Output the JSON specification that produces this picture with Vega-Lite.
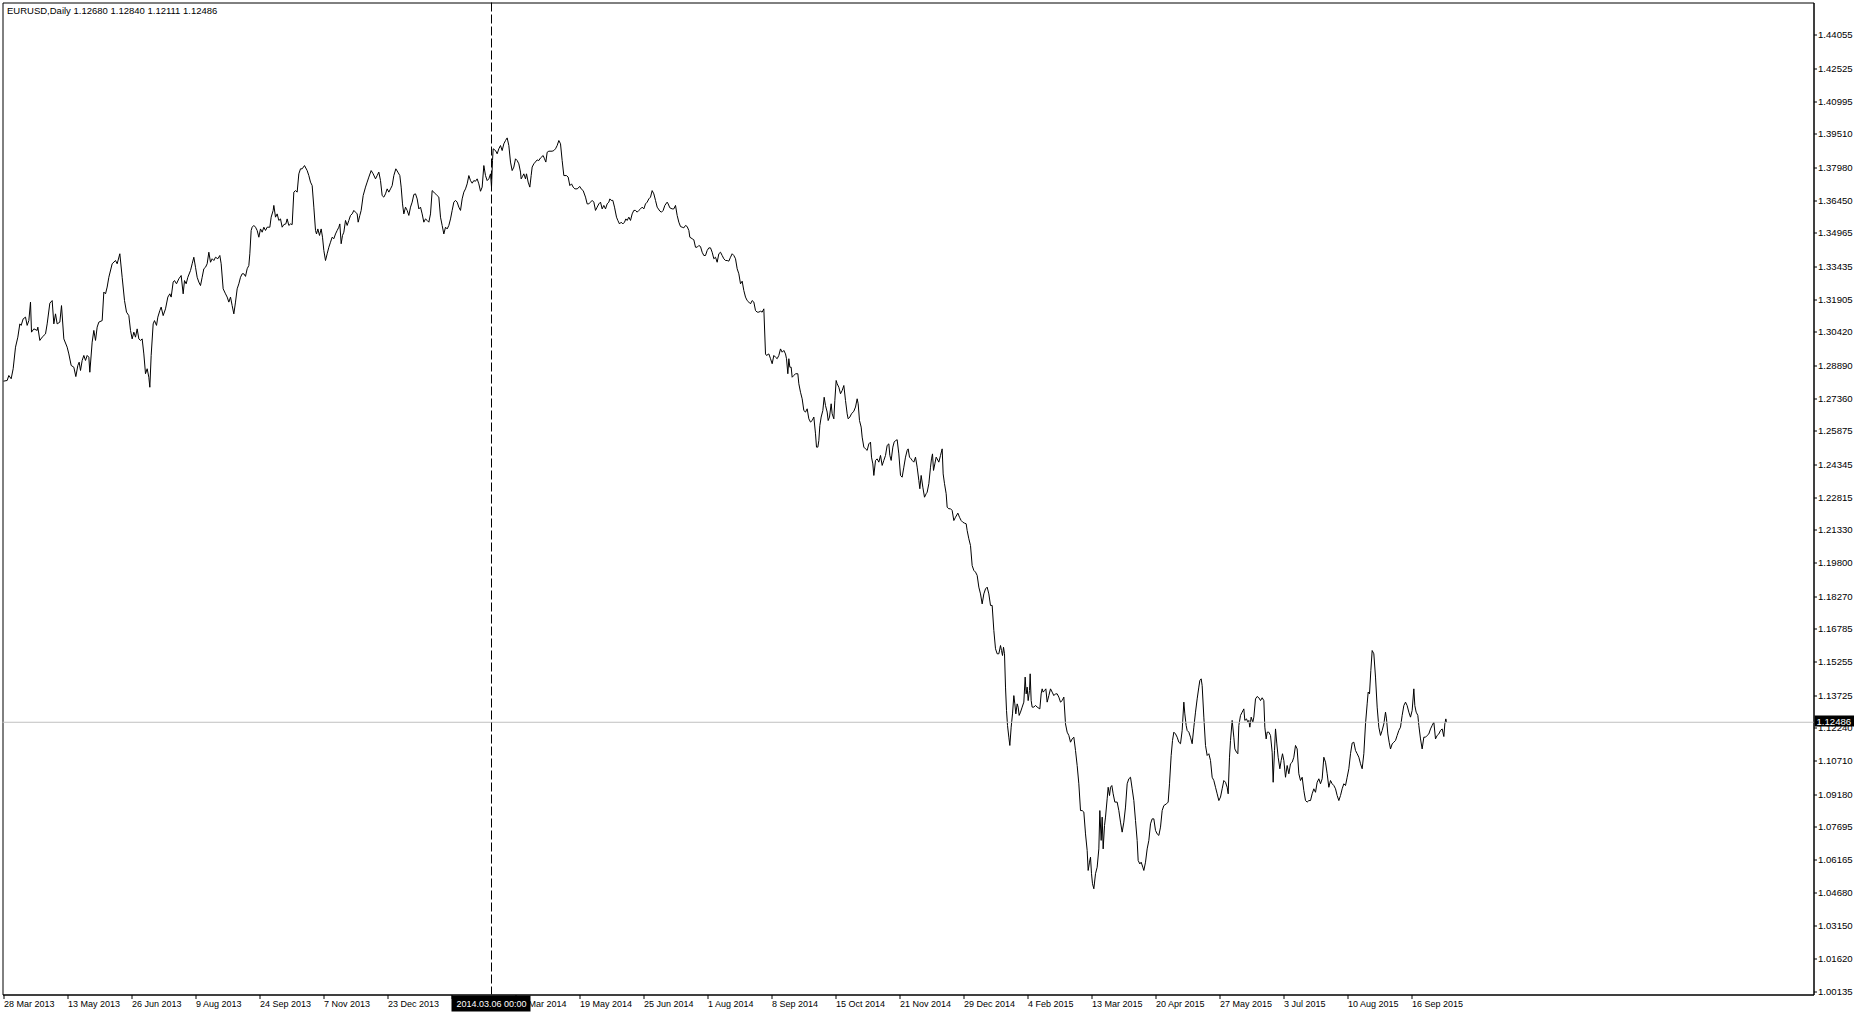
{
"$schema": "https://vega.github.io/schema/vega-lite/v6.json",
"width": 1811,
"height": 992,
"autosize": {"type": "none"},
"padding": {"left": 2.5, "top": 2.5, "right": 40.5, "bottom": 17.5},
"background": "white",
"config": {
"view": {"stroke": "black", "strokeWidth": 1},
"axis": {"grid": false, "domainColor": "black", "tickColor": "black", "labelColor": "black", "labelFont": "Liberation Sans", "labelFontSize": 9, "domainWidth": 1, "tickWidth": 1, "labelOverlap": false, "labelFlush": false, "labelBound": false, "title": null}
},
"datasets": {
"prices": [
{"i":0,"close":1.2815},{"i":1.83,"close":1.2818},{"i":2.67,"close":1.2841},{"i":3.83,"close":1.2826},{"i":4.83,"close":1.2872},{"i":6,"close":1.2971},{"i":7.17,"close":1.3017},{"i":8.17,"close":1.3078},{"i":8.83,"close":1.3071},{"i":9.83,"close":1.3101},{"i":11,"close":1.3109},{"i":11.83,"close":1.3071},{"i":12.67,"close":1.3093},{"i":13.5,"close":1.3178},{"i":14,"close":1.3040},{"i":15.17,"close":1.3055},{"i":16.83,"close":1.3048},{"i":17.17,"close":1.3063},{"i":18.17,"close":1.3002},{"i":19.33,"close":1.3017},{"i":21,"close":1.3032},{"i":21.83,"close":1.3078},{"i":23.17,"close":1.3173},{"i":24.33,"close":1.3185},{"i":25.17,"close":1.3078},{"i":26,"close":1.3124},{"i":26.83,"close":1.3078},{"i":28.17,"close":1.3086},{"i":29,"close":1.3162},{"i":30.17,"close":1.3009},{"i":31.83,"close":1.2971},{"i":32.67,"close":1.2940},{"i":33.83,"close":1.2887},{"i":35.17,"close":1.2879},{"i":36.17,"close":1.2836},{"i":37.17,"close":1.2887},{"i":37.83,"close":1.2902},{"i":38.5,"close":1.2864},{"i":39.33,"close":1.2910},{"i":40.17,"close":1.2933},{"i":41,"close":1.2910},{"i":41.83,"close":1.2933},{"i":42.67,"close":1.2925},{"i":43.17,"close":1.2856},{"i":44.33,"close":1.2994},{"i":45.17,"close":1.3048},{"i":46,"close":1.3002},{"i":46.83,"close":1.3063},{"i":47.67,"close":1.3086},{"i":49.33,"close":1.3093},{"i":50.17,"close":1.3224},{"i":51,"close":1.3216},{"i":51.83,"close":1.3247},{"i":52.67,"close":1.3292},{"i":54.33,"close":1.3354},{"i":56,"close":1.3369},{"i":56.83,"close":1.3354},{"i":58.17,"close":1.3400},{"i":59.33,"close":1.3292},{"i":60.5,"close":1.3185},{"i":61.5,"close":1.3132},{"i":62.67,"close":1.3116},{"i":63.5,"close":1.3048},{"i":64.33,"close":1.3009},{"i":65.17,"close":1.3040},{"i":66,"close":1.3017},{"i":66.83,"close":1.3055},{"i":67.67,"close":1.3009},{"i":68.5,"close":1.3002},{"i":69.33,"close":1.3009},{"i":70.17,"close":1.2940},{"i":71,"close":1.2849},{"i":71.83,"close":1.2872},{"i":72.67,"close":1.2833},{"i":73.17,"close":1.2787},{"i":73.83,"close":1.2933},{"i":74.83,"close":1.3078},{"i":75.5,"close":1.3093},{"i":76.5,"close":1.3071},{"i":77.17,"close":1.3109},{"i":78.17,"close":1.3139},{"i":78.83,"close":1.3155},{"i":79.83,"close":1.3116},{"i":81,"close":1.3147},{"i":82.17,"close":1.3201},{"i":83.17,"close":1.3216},{"i":83.83,"close":1.3201},{"i":84.83,"close":1.3270},{"i":85.5,"close":1.3277},{"i":86.5,"close":1.3262},{"i":87.67,"close":1.3285},{"i":88.83,"close":1.3300},{"i":89.83,"close":1.3216},{"i":90.5,"close":1.3277},{"i":91.33,"close":1.3262},{"i":92.17,"close":1.3292},{"i":93.5,"close":1.3323},{"i":94.33,"close":1.3354},{"i":95.17,"close":1.3384},{"i":96,"close":1.3338},{"i":96.83,"close":1.3292},{"i":97.67,"close":1.3270},{"i":98.5,"close":1.3254},{"i":99.33,"close":1.3292},{"i":100.17,"close":1.3331},{"i":101,"close":1.3338},{"i":101.83,"close":1.3354},{"i":102.67,"close":1.3407},{"i":103.5,"close":1.3361},{"i":104.33,"close":1.3377},{"i":105.17,"close":1.3369},{"i":106,"close":1.3384},{"i":107.17,"close":1.3377},{"i":108.17,"close":1.3392},{"i":108.83,"close":1.3354},{"i":109.83,"close":1.3239},{"i":111,"close":1.3216},{"i":111.83,"close":1.3201},{"i":112.67,"close":1.3178},{"i":113.5,"close":1.3201},{"i":114.33,"close":1.3162},{"i":115.17,"close":1.3124},{"i":116,"close":1.3178},{"i":116.83,"close":1.3239},{"i":117.67,"close":1.3262},{"i":118.5,"close":1.3292},{"i":119.33,"close":1.3308},{"i":120.17,"close":1.3308},{"i":121,"close":1.3296},{"i":121.83,"close":1.3331},{"i":122.67,"close":1.3346},{"i":123.17,"close":1.3400},{"i":123.83,"close":1.3507},{"i":124.33,"close":1.3522},{"i":125.17,"close":1.3530},{"i":126,"close":1.3522},{"i":126.83,"close":1.3507},{"i":127.67,"close":1.3476},{"i":128.5,"close":1.3514},{"i":129.33,"close":1.3499},{"i":130.17,"close":1.3522},{"i":131,"close":1.3507},{"i":131.83,"close":1.3522},{"i":133.17,"close":1.3522},{"i":133.83,"close":1.3568},{"i":134.83,"close":1.3599},{"i":135.17,"close":1.3622},{"i":136,"close":1.3568},{"i":136.83,"close":1.3583},{"i":137.67,"close":1.3553},{"i":138.5,"close":1.3560},{"i":139.33,"close":1.3522},{"i":140.17,"close":1.3534},{"i":141.17,"close":1.3537},{"i":141.83,"close":1.3560},{"i":142.67,"close":1.3530},{"i":143.5,"close":1.3537},{"i":144.33,"close":1.3534},{"i":145.17,"close":1.3683},{"i":146,"close":1.3690},{"i":146.83,"close":1.3683},{"i":147.67,"close":1.3767},{"i":148.5,"close":1.3790},{"i":149.33,"close":1.3790},{"i":150.5,"close":1.3805},{"i":151.83,"close":1.3782},{"i":152.67,"close":1.3759},{"i":153.5,"close":1.3729},{"i":154.33,"close":1.3713},{"i":155.17,"close":1.3614},{"i":156,"close":1.3507},{"i":156.5,"close":1.3491},{"i":157.17,"close":1.3514},{"i":158,"close":1.3484},{"i":158.83,"close":1.3514},{"i":159.5,"close":1.3476},{"i":160.17,"close":1.3415},{"i":161,"close":1.3369},{"i":161.83,"close":1.3400},{"i":162.67,"close":1.3430},{"i":163.5,"close":1.3453},{"i":164.33,"close":1.3476},{"i":165.17,"close":1.3469},{"i":166,"close":1.3491},{"i":166.83,"close":1.3507},{"i":167.67,"close":1.3522},{"i":168.17,"close":1.3537},{"i":168.83,"close":1.3446},{"i":169.5,"close":1.3484},{"i":170.17,"close":1.3499},{"i":171,"close":1.3553},{"i":171.83,"close":1.3530},{"i":172.67,"close":1.3553},{"i":173.5,"close":1.3576},{"i":174.33,"close":1.3583},{"i":175.17,"close":1.3599},{"i":176,"close":1.3591},{"i":176.83,"close":1.3583},{"i":177.33,"close":1.3545},{"i":178.17,"close":1.3576},{"i":178.83,"close":1.3599},{"i":179.83,"close":1.3667},{"i":181,"close":1.3706},{"i":181.83,"close":1.3729},{"i":182.67,"close":1.3752},{"i":183.83,"close":1.3782},{"i":184.83,"close":1.3767},{"i":186,"close":1.3744},{"i":186.83,"close":1.3759},{"i":187.67,"close":1.3775},{"i":188.5,"close":1.3736},{"i":189.33,"close":1.3667},{"i":190.17,"close":1.3660},{"i":191,"close":1.3675},{"i":191.83,"close":1.3698},{"i":192.67,"close":1.3683},{"i":193.5,"close":1.3698},{"i":194.33,"close":1.3713},{"i":195.17,"close":1.3759},{"i":196.17,"close":1.3790},{"i":197.17,"close":1.3775},{"i":198.17,"close":1.3759},{"i":198.83,"close":1.3706},{"i":199.5,"close":1.3629},{"i":200.17,"close":1.3583},{"i":201,"close":1.3614},{"i":201.83,"close":1.3599},{"i":202.67,"close":1.3576},{"i":203.5,"close":1.3614},{"i":204.33,"close":1.3637},{"i":205.17,"close":1.3672},{"i":206,"close":1.3675},{"i":206.83,"close":1.3652},{"i":207.67,"close":1.3606},{"i":208.5,"close":1.3614},{"i":209.33,"close":1.3583},{"i":210.17,"close":1.3545},{"i":211,"close":1.3560},{"i":211.83,"close":1.3553},{"i":212.67,"close":1.3545},{"i":213.5,"close":1.3583},{"i":214.33,"close":1.3690},{"i":215.17,"close":1.3683},{"i":216,"close":1.3675},{"i":216.83,"close":1.3667},{"i":217.67,"close":1.3660},{"i":218.5,"close":1.3568},{"i":219.33,"close":1.3530},{"i":220.17,"close":1.3491},{"i":221,"close":1.3522},{"i":221.83,"close":1.3514},{"i":222.67,"close":1.3530},{"i":223.5,"close":1.3560},{"i":224.33,"close":1.3599},{"i":225.17,"close":1.3637},{"i":226,"close":1.3645},{"i":226.83,"close":1.3637},{"i":227.67,"close":1.3614},{"i":228.5,"close":1.3599},{"i":229.33,"close":1.3652},{"i":230.17,"close":1.3683},{"i":231,"close":1.3698},{"i":231.83,"close":1.3721},{"i":232.67,"close":1.3759},{"i":233.5,"close":1.3736},{"i":234.33,"close":1.3724},{"i":235.17,"close":1.3736},{"i":236,"close":1.3733},{"i":236.83,"close":1.3744},{"i":237.67,"close":1.3721},{"i":238.5,"close":1.3687},{"i":239.33,"close":1.3706},{"i":240.17,"close":1.3805},{"i":241,"close":1.3759},{"i":241.83,"close":1.3736},{"i":242.67,"close":1.3744},{"i":243.5,"close":1.3767},{"i":244,"close":1.3706},{"i":244.5,"close":1.3828},{"i":244.83,"close":1.3882},{"i":246,"close":1.3874},{"i":246.83,"close":1.3859},{"i":247.67,"close":1.3882},{"i":248.5,"close":1.3897},{"i":249.33,"close":1.3874},{"i":250.17,"close":1.3905},{"i":251,"close":1.3920},{"i":251.83,"close":1.3932},{"i":252.67,"close":1.3897},{"i":253.5,"close":1.3821},{"i":254.33,"close":1.3782},{"i":255.17,"close":1.3798},{"i":256,"close":1.3836},{"i":256.83,"close":1.3828},{"i":257.67,"close":1.3813},{"i":258.5,"close":1.3775},
{"i":258.83,"close":1.3744},{"i":259.5,"close":1.3755},{"i":260.17,"close":1.3767},{"i":261,"close":1.3744},{"i":261.5,"close":1.3767},{"i":262.33,"close":1.3729},{"i":263.17,"close":1.3706},{"i":263.83,"close":1.3759},{"i":264.33,"close":1.3798},{"i":265.17,"close":1.3813},{"i":266.83,"close":1.3831},{"i":267.67,"close":1.3828},{"i":268.5,"close":1.3840},{"i":269.83,"close":1.3851},{"i":270.5,"close":1.3836},{"i":271.17,"close":1.3821},{"i":271.83,"close":1.3866},{"i":272.67,"close":1.3871},{"i":274.33,"close":1.3871},{"i":275.17,"close":1.3874},{"i":276,"close":1.3882},{"i":276.83,"close":1.3897},{"i":277.67,"close":1.3920},{"i":278.5,"close":1.3905},{"i":279.33,"close":1.3828},{"i":280.17,"close":1.3759},{"i":281.5,"close":1.3759},{"i":282.33,"close":1.3752},{"i":283.17,"close":1.3713},{"i":284,"close":1.3721},{"i":284.83,"close":1.3706},{"i":285.67,"close":1.3698},{"i":286.83,"close":1.3698},{"i":288.17,"close":1.3709},{"i":288.83,"close":1.3698},{"i":289.83,"close":1.3690},{"i":291,"close":1.3660},{"i":291.83,"close":1.3629},{"i":292.67,"close":1.3629},{"i":293.5,"close":1.3637},{"i":294.33,"close":1.3645},{"i":295.17,"close":1.3637},{"i":296,"close":1.3599},{"i":296.83,"close":1.3614},{"i":297.67,"close":1.3629},{"i":298.5,"close":1.3637},{"i":299.33,"close":1.3606},{"i":300.17,"close":1.3622},{"i":301,"close":1.3606},{"i":301.83,"close":1.3629},{"i":302.67,"close":1.3637},{"i":303.17,"close":1.3652},{"i":303.83,"close":1.3645},{"i":304.67,"close":1.3645},{"i":305.5,"close":1.3614},{"i":306.5,"close":1.3568},{"i":307.17,"close":1.3553},{"i":308,"close":1.3537},{"i":308.83,"close":1.3545},{"i":309.67,"close":1.3537},{"i":310.5,"close":1.3545},{"i":311.17,"close":1.3560},{"i":311.83,"close":1.3553},{"i":312.67,"close":1.3568},{"i":313.5,"close":1.3553},{"i":314.33,"close":1.3583},{"i":315.17,"close":1.3599},{"i":316,"close":1.3599},{"i":316.83,"close":1.3591},{"i":317.67,"close":1.3599},{"i":318.5,"close":1.3606},{"i":319.33,"close":1.3614},{"i":320.17,"close":1.3606},{"i":321,"close":1.3629},{"i":321.83,"close":1.3637},{"i":322.67,"close":1.3652},{"i":323.5,"close":1.3660},{"i":324.33,"close":1.3690},{"i":325.17,"close":1.3675},{"i":326,"close":1.3645},{"i":326.83,"close":1.3614},{"i":328.17,"close":1.3596},{"i":329,"close":1.3591},{"i":329.83,"close":1.3599},{"i":330.67,"close":1.3622},{"i":331.83,"close":1.3637},{"i":332.33,"close":1.3629},{"i":333.17,"close":1.3611},{"i":334.33,"close":1.3606},{"i":335.17,"close":1.3606},{"i":336,"close":1.3622},{"i":336.83,"close":1.3576},{"i":337.67,"close":1.3545},{"i":338.5,"close":1.3525},{"i":339.33,"close":1.3522},{"i":340.17,"close":1.3519},{"i":341,"close":1.3530},{"i":341.83,"close":1.3525},{"i":342.67,"close":1.3507},{"i":343.17,"close":1.3476},{"i":344.33,"close":1.3469},{"i":345.17,"close":1.3464},{"i":346,"close":1.3430},{"i":346.83,"close":1.3430},{"i":347.67,"close":1.3438},{"i":348.5,"close":1.3433},{"i":349.33,"close":1.3407},{"i":350.17,"close":1.3392},{"i":351,"close":1.3392},{"i":351.83,"close":1.3415},{"i":352.67,"close":1.3427},{"i":353.5,"close":1.3427},{"i":354.33,"close":1.3407},{"i":355.17,"close":1.3377},{"i":356,"close":1.3384},{"i":356.83,"close":1.3361},{"i":357.67,"close":1.3400},{"i":358.5,"close":1.3407},{"i":359.33,"close":1.3392},{"i":360.17,"close":1.3377},{"i":361,"close":1.3369},{"i":361.83,"close":1.3369},{"i":362.67,"close":1.3366},{"i":363.5,"close":1.3384},{"i":364.33,"close":1.3400},{"i":365.17,"close":1.3392},{"i":366,"close":1.3377},{"i":366.83,"close":1.3331},{"i":367.67,"close":1.3308},{"i":368.5,"close":1.3262},{"i":369.33,"close":1.3274},{"i":370.17,"close":1.3231},{"i":371,"close":1.3201},{"i":371.83,"close":1.3185},{"i":372.67,"close":1.3178},{"i":373.5,"close":1.3170},{"i":374.33,"close":1.3185},{"i":375.17,"close":1.3178},{"i":376,"close":1.3139},{"i":376.83,"close":1.3132},{"i":377.67,"close":1.3132},{"i":378.5,"close":1.3136},{"i":379.33,"close":1.3132},{"i":380.17,"close":1.3147},{"i":381,"close":1.2940},
{"i":381.5,"close":1.2933},{"i":382.67,"close":1.2940},{"i":383.5,"close":1.2918},{"i":384.33,"close":1.2895},{"i":385.17,"close":1.2933},{"i":386,"close":1.2925},{"i":386.83,"close":1.2918},{"i":387.67,"close":1.2933},{"i":388.5,"close":1.2963},{"i":389.33,"close":1.2948},{"i":390.17,"close":1.2956},{"i":391,"close":1.2940},{"i":391.5,"close":1.2918},{"i":392.17,"close":1.2849},{"i":392.67,"close":1.2918},{"i":393.17,"close":1.2879},{"i":393.83,"close":1.2879},{"i":394.33,"close":1.2833},{"i":395.17,"close":1.2841},{"i":396,"close":1.2849},{"i":397.17,"close":1.2849},{"i":397.67,"close":1.2803},{"i":398.5,"close":1.2764},{"i":399.33,"close":1.2734},{"i":400.17,"close":1.2680},{"i":401,"close":1.2673},{"i":401.83,"close":1.2688},{"i":402.67,"close":1.2642},{"i":403.5,"close":1.2627},{"i":404.33,"close":1.2634},{"i":405.17,"close":1.2650},{"i":406,"close":1.2573},{"i":406.5,"close":1.2512},{"i":407.17,"close":1.2512},{"i":407.67,"close":1.2542},{"i":408.17,"close":1.2611},{"i":408.83,"close":1.2650},{"i":409.67,"close":1.2680},{"i":410.33,"close":1.2741},{"i":411,"close":1.2703},{"i":411.83,"close":1.2673},{"i":412.33,"close":1.2634},{"i":413,"close":1.2650},{"i":413.83,"close":1.2711},{"i":414.33,"close":1.2665},{"i":415.17,"close":1.2642},{"i":415.67,"close":1.2726},{"i":416.33,"close":1.2818},{"i":416.83,"close":1.2803},{"i":417.67,"close":1.2787},{"i":418.5,"close":1.2757},{"i":419.33,"close":1.2772},{"i":420.17,"close":1.2795},{"i":421,"close":1.2726},{"i":421.83,"close":1.2665},{"i":422.33,"close":1.2642},{"i":423.17,"close":1.2650},{"i":424,"close":1.2665},{"i":425.17,"close":1.2677},{"i":426,"close":1.2696},{"i":426.83,"close":1.2734},{"i":427.33,"close":1.2711},{"i":428,"close":1.2634},{"i":428.83,"close":1.2604},{"i":429.33,"close":1.2558},{"i":430.17,"close":1.2512},{"i":431,"close":1.2504},{"i":431.83,"close":1.2497},{"i":432.67,"close":1.2527},{"i":433.5,"close":1.2535},{"i":434,"close":1.2466},{"i":434.67,"close":1.2435},{"i":435.17,"close":1.2382},{"i":436,"close":1.2451},{"i":436.83,"close":1.2458},{"i":437.67,"close":1.2443},{"i":438.5,"close":1.2474},{"i":439.33,"close":1.2428},{"i":440.17,"close":1.2451},{"i":441,"close":1.2474},{"i":441.83,"close":1.2520},{"i":442.67,"close":1.2527},{"i":443.17,"close":1.2474},{"i":443.83,"close":1.2451},{"i":444.67,"close":1.2512},{"i":445.33,"close":1.2535},{"i":446,"close":1.2542},{"i":446.83,"close":1.2546},{"i":447.67,"close":1.2481},{"i":448.5,"close":1.2382},{"i":449.33,"close":1.2374},{"i":450.17,"close":1.2420},{"i":451,"close":1.2466},{"i":451.83,"close":1.2497},{"i":452.33,"close":1.2504},{"i":453,"close":1.2466},{"i":453.83,"close":1.2458},{"i":454.33,"close":1.2451},{"i":455.17,"close":1.2443},{"i":456,"close":1.2466},{"i":456.83,"close":1.2420},{"i":457.67,"close":1.2359},{"i":458.17,"close":1.2321},{"i":458.83,"close":1.2382},{"i":459.67,"close":1.2328},{"i":460.5,"close":1.2282},{"i":461.33,"close":1.2298},{"i":461.83,"close":1.2305},{"i":462.67,"close":1.2344},{"i":463.5,"close":1.2420},{"i":464,"close":1.2458},{"i":464.5,"close":1.2481},{"i":465,"close":1.2405},{"i":465.67,"close":1.2435},{"i":466.33,"close":1.2466},{"i":466.83,"close":1.2458},{"i":467.67,"close":1.2443},{"i":468.5,"close":1.2474},{"i":469.33,"close":1.2504},{"i":469.83,"close":1.2389},{"i":470.5,"close":1.2344},{"i":471.33,"close":1.2298},{"i":471.83,"close":1.2236},{"i":472.67,"close":1.2229},{"i":473.5,"close":1.2229},{"i":474.33,"close":1.2221},{"i":475.17,"close":1.2175},{"i":476,"close":1.2190},{"i":477.17,"close":1.2209},{"i":478,"close":1.2190},{"i":478.83,"close":1.2175},{"i":479.67,"close":1.2167},{"i":480.5,"close":1.2163},{"i":481.33,"close":1.2160},{"i":481.83,"close":1.2129},{"i":482.67,"close":1.2091},{"i":483.5,"close":1.2060},{"i":484.33,"close":1.1968},{"i":485.17,"close":1.1946},{"i":486,"close":1.1938},{"i":486.83,"close":1.1923},{"i":487.67,"close":1.1869},{"i":488.5,"close":1.1838},{"i":489.33,"close":1.1792},{"i":490.17,"close":1.1838},{"i":491,"close":1.1861},{"i":491.83,"close":1.1869},{"i":492.67,"close":1.1838},{"i":493.5,"close":1.1785},{"i":494.33,"close":1.1785},{"i":495.17,"close":1.1670},{"i":496,"close":1.1586},{"i":496.83,"close":1.1563},{"i":497.67,"close":1.1563},{"i":498.5,"close":1.1601},
{"i":499,"close":1.1578},{"i":499.5,"close":1.1555},{"i":500,"close":1.1593},{"i":500.5,"close":1.1563},{"i":501,"close":1.1410},{"i":501.5,"close":1.1303},{"i":502,"close":1.1234},{"i":502.67,"close":1.1180},{"i":503.17,"close":1.1142},{"i":503.83,"close":1.1226},{"i":504.5,"close":1.1287},{"i":505.17,"close":1.1371},{"i":505.67,"close":1.1333},{"i":506.17,"close":1.1287},{"i":506.83,"close":1.1333},{"i":507.33,"close":1.1318},{"i":507.83,"close":1.1280},{"i":508.5,"close":1.1295},{"i":509.33,"close":1.1318},{"i":510.17,"close":1.1341},{"i":510.83,"close":1.1456},{"i":511.33,"close":1.1379},{"i":511.83,"close":1.1410},{"i":512.33,"close":1.1348},{"i":513,"close":1.1394},{"i":513.33,"close":1.1471},{"i":513.83,"close":1.1348},{"i":514.33,"close":1.1318},{"i":515.17,"close":1.1318},{"i":516,"close":1.1326},{"i":516.83,"close":1.1318},{"i":518.17,"close":1.1310},{"i":518.83,"close":1.1379},{"i":519.33,"close":1.1402},{"i":519.83,"close":1.1387},{"i":520.5,"close":1.1394},{"i":521.17,"close":1.1402},{"i":521.83,"close":1.1341},{"i":522.67,"close":1.1371},{"i":523.5,"close":1.1402},{"i":524.33,"close":1.1387},{"i":525.17,"close":1.1371},{"i":526,"close":1.1379},{"i":526.83,"close":1.1379},{"i":527.67,"close":1.1364},{"i":528.5,"close":1.1341},{"i":529.33,"close":1.1348},{"i":530.17,"close":1.1364},{"i":531,"close":1.1241},{"i":531.83,"close":1.1203},{"i":532.67,"close":1.1188},{"i":533.5,"close":1.1157},{"i":534.33,"close":1.1172},{"i":535.17,"close":1.1180},{"i":536,"close":1.1119},{"i":536.83,"close":1.1050},{"i":537.67,"close":1.0966},{"i":538.5,"close":1.0843},{"i":539.33,"close":1.0843},{"i":540.17,"close":1.0836},{"i":541,"close":1.0736},{"i":541.83,"close":1.0660},{"i":542.33,"close":1.0568},{"i":543,"close":1.0606},{"i":543.5,"close":1.0629},{"i":544,"close":1.0553},{"i":544.5,"close":1.0507},{"i":545.17,"close":1.0484},{"i":546,"close":1.0553},{"i":546.83,"close":1.0583},{"i":547.67,"close":1.0667},{"i":548.17,"close":1.0843},{"i":548.83,"close":1.0706},{"i":549.33,"close":1.0813},{"i":549.83,"close":1.0667},{"i":550.5,"close":1.0774},{"i":551,"close":1.0813},{"i":551.83,"close":1.0897},{"i":552.33,"close":1.0950},{"i":553,"close":1.0912},{"i":553.5,"close":1.0950},{"i":554.17,"close":1.0958},{"i":554.83,"close":1.0920},{"i":555.67,"close":1.0882},{"i":556.83,"close":1.0882},{"i":557.67,"close":1.0843},{"i":558.5,"close":1.0790},{"i":559.33,"close":1.0744},{"i":560.17,"close":1.0790},{"i":561,"close":1.0859},{"i":561.83,"close":1.0966},{"i":562.67,"close":1.0989},{"i":563.5,"close":1.0996},{"i":564.33,"close":1.0943},{"i":565.17,"close":1.0889},{"i":566,"close":1.0797},{"i":566.83,"close":1.0706},{"i":567.33,"close":1.0614},{"i":568.17,"close":1.0598},{"i":568.83,"close":1.0606},{"i":569.67,"close":1.0583},{"i":570.17,"close":1.0568},{"i":571,"close":1.0606},{"i":571.83,"close":1.0667},{"i":572.67,"close":1.0706},{"i":573.5,"close":1.0782},{"i":574.33,"close":1.0805},{"i":575.17,"close":1.0805},{"i":576,"close":1.0752},{"i":576.83,"close":1.0736},{"i":577.67,"close":1.0729},{"i":578.5,"close":1.0767},{"i":579.33,"close":1.0843},{"i":580.17,"close":1.0866},{"i":581.5,"close":1.0874},{"i":582.33,"close":1.0882},{"i":583,"close":1.0966},{"i":583.83,"close":1.1096},{"i":584.5,"close":1.1165},{"i":585.17,"close":1.1203},{"i":586,"close":1.1195},{"i":586.83,"close":1.1180},{"i":587.67,"close":1.1157},{"i":588.5,"close":1.1150},{"i":589.33,"close":1.1211},{"i":590.17,"close":1.1341},{"i":590.67,"close":1.1287},{"i":591.33,"close":1.1234},{"i":591.83,"close":1.1211},{"i":592.67,"close":1.1203},{"i":593.5,"close":1.1180},{"i":594.33,"close":1.1150},{"i":595.17,"close":1.1226},{"i":596,"close":1.1295},{"i":596.83,"close":1.1356},{"i":597.67,"close":1.1410},{"i":598.17,"close":1.1440},{"i":598.83,"close":1.1448},{"i":599.33,"close":1.1417},{"i":600.17,"close":1.1272},{"i":601,"close":1.1142},{"i":601.83,"close":1.1096},{"i":602.67,"close":1.1104},{"i":603.5,"close":1.1073},{"i":604.33,"close":1.0996},{"i":605.17,"close":1.0981},{"i":606,"close":1.0950},{"i":606.83,"close":1.0920},{"i":607.67,"close":1.0889},{"i":608.5,"close":1.0905},{"i":609.33,"close":1.0943},{"i":610.17,"close":1.0981},{"i":611,"close":1.0973},{"i":611.83,"close":1.0950},{"i":612.33,"close":1.0920},{"i":613,"close":1.1088},{"i":613.5,"close":1.1165},{"i":614.33,"close":1.1257},
{"i":615.17,"close":1.1180},{"i":615.67,"close":1.1126},{"i":616.5,"close":1.1111},{"i":617.17,"close":1.1104},{"i":617.67,"close":1.1234},{"i":618.5,"close":1.1280},{"i":619.33,"close":1.1295},{"i":620.17,"close":1.1310},{"i":620.67,"close":1.1257},{"i":621.5,"close":1.1264},{"i":622.17,"close":1.1249},{"i":622.67,"close":1.1257},{"i":623.17,"close":1.1226},{"i":623.83,"close":1.1272},{"i":624.67,"close":1.1249},{"i":625.17,"close":1.1272},{"i":626,"close":1.1356},{"i":626.83,"close":1.1367},{"i":627.67,"close":1.1361},{"i":628.5,"close":1.1348},{"i":629.33,"close":1.1361},{"i":630.17,"close":1.1348},{"i":630.67,"close":1.1226},{"i":631.33,"close":1.1172},{"i":631.83,"close":1.1203},{"i":632.67,"close":1.1203},{"i":633.5,"close":1.1188},{"i":634.33,"close":1.1111},{"i":634.83,"close":1.0973},{"i":635.5,"close":1.1119},{"i":636,"close":1.1218},{"i":636.67,"close":1.1149},{"i":637.33,"close":1.1088},{"i":638.17,"close":1.1035},{"i":638.83,"close":1.1073},{"i":639.5,"close":1.1104},{"i":640.17,"close":1.1073},{"i":641,"close":1.0996},{"i":641.83,"close":1.1050},{"i":642.67,"close":1.1012},{"i":643.5,"close":1.1058},{"i":644.33,"close":1.1065},{"i":645.17,"close":1.1088},{"i":646,"close":1.1142},{"i":646.83,"close":1.1126},{"i":647.67,"close":1.1012},{"i":648.5,"close":1.0981},{"i":649.33,"close":1.0996},{"i":650.17,"close":1.0935},{"i":651,"close":1.0889},{"i":651.83,"close":1.0882},{"i":652.67,"close":1.0889},{"i":653.5,"close":1.0889},{"i":654.33,"close":1.0920},{"i":655.17,"close":1.0943},{"i":656,"close":1.0927},{"i":656.83,"close":1.0973},{"i":657.67,"close":1.0989},{"i":658.5,"close":1.0966},{"i":659.33,"close":1.0989},{"i":660.17,"close":1.1088},{"i":661,"close":1.1065},{"i":661.83,"close":1.1012},{"i":662.67,"close":1.0950},{"i":663.5,"close":1.0981},{"i":664.33,"close":1.0966},{"i":665.17,"close":1.0958},{"i":666,"close":1.0943},{"i":666.83,"close":1.0912},{"i":667.67,"close":1.0889},{"i":668.5,"close":1.0912},{"i":669.33,"close":1.0943},{"i":670.17,"close":1.0966},{"i":671,"close":1.0958},{"i":671.83,"close":1.0996},{"i":672.67,"close":1.1035},{"i":673.5,"close":1.1104},{"i":674.33,"close":1.1153},{"i":675.17,"close":1.1157},{"i":676,"close":1.1119},{"i":676.83,"close":1.1104},{"i":677.67,"close":1.1088},{"i":678.5,"close":1.1058},{"i":679.33,"close":1.1035},{"i":680.17,"close":1.1104},{"i":681,"close":1.1241},{"i":681.83,"close":1.1333},{"i":682.33,"close":1.1387},{"i":683,"close":1.1379},{"i":683.67,"close":1.1486},{"i":684.33,"close":1.1578},{"i":685.17,"close":1.1563},{"i":686,"close":1.1456},{"i":686.83,"close":1.1318},{"i":687.67,"close":1.1226},{"i":688.5,"close":1.1188},{"i":689.33,"close":1.1211},{"i":690.17,"close":1.1241},{"i":691,"close":1.1295},{"i":691.5,"close":1.1264},{"i":692.17,"close":1.1195},{"i":692.83,"close":1.1157},{"i":693.5,"close":1.1126},{"i":694.33,"close":1.1149},{"i":695.17,"close":1.1157},{"i":696,"close":1.1165},{"i":696.83,"close":1.1188},{"i":697.67,"close":1.1211},{"i":698.5,"close":1.1226},{"i":699.33,"close":1.1280},{"i":700.17,"close":1.1325},{"i":701,"close":1.1341},{"i":701.83,"close":1.1325},{"i":702.67,"close":1.1295},{"i":703.5,"close":1.1272},{"i":704.33,"close":1.1303},{"i":705.17,"close":1.1402},{"i":705.67,"close":1.1325},{"i":706.33,"close":1.1295},{"i":707.17,"close":1.1280},{"i":707.67,"close":1.1234},{"i":708.5,"close":1.1172},{"i":709.33,"close":1.1126},{"i":710.17,"close":1.1180},{"i":711,"close":1.1180},{"i":711.83,"close":1.1188},{"i":712.67,"close":1.1195},{"i":713.5,"close":1.1218},{"i":714.33,"close":1.1234},{"i":715.17,"close":1.1249},{"i":716,"close":1.1172},{"i":716.83,"close":1.1188},{"i":717.67,"close":1.1195},{"i":718.5,"close":1.1211},{"i":719.33,"close":1.1218},{"i":720.17,"close":1.1183},{"i":720.67,"close":1.1241},{"i":721.17,"close":1.1264},{"i":721.5,"close":1.12486}
],
"marker": [{"i": 244, "label": "2014.03.06 00:00"}],
"last": [{"close": 1.12486}],
"header": [{"label": "EURUSD,Daily  1.12680 1.12840 1.12111 1.12486"}]
},
"layer": [
{
"data": {"name": "prices"},
"mark": {"type": "line", "color": "black", "strokeWidth": 1, "interpolate": "linear"},
"encoding": {
"x": {"field": "i", "type": "quantitative", "title": null,
"scale": {"domain": [-0.5, 905], "nice": false, "zero": false},
"axis": {"orient": "bottom", "values": [0,32,64,96,128,160,192,224,256,288,320,352,384,416,448,480,512,544,576,608,640,672,704], "tickCount": 100,
"labelExpr": "['28 Mar 2013','13 May 2013','26 Jun 2013','9 Aug 2013','24 Sep 2013','7 Nov 2013','23 Dec 2013','6 Feb 2014','24 Mar 2014','19 May 2014','25 Jun 2014','1 Aug 2014','8 Sep 2014','15 Oct 2014','21 Nov 2014','29 Dec 2014','4 Feb 2015','13 Mar 2015','20 Apr 2015','27 May 2015','3 Jul 2015','10 Aug 2015','16 Sep 2015'][round(datum.value/32)]",
"labelAlign": "left", "labelBaseline": "top", "labelPadding": 1, "labelDx": 1, "tickSize": 4, "labelOverlap": false, "labelFlush": false, "labelBound": false, "title": null}},
"y": {"field": "close", "type": "quantitative", "title": null,
"scale": {"domain": [0.99984, 1.45538], "nice": false, "zero": false},
"axis": {"orient": "right", "values": [1.44055,1.42525,1.40995,1.39510,1.37980,1.36450,1.34965,1.33435,1.31905,1.30420,1.28890,1.27360,1.25875,1.24345,1.22815,1.21330,1.19800,1.18270,1.16785,1.15255,1.13725,1.12240,1.10710,1.09180,1.07695,1.06165,1.04680,1.03150,1.01620,1.00135], "tickCount": 100,
"format": ".5f", "tickSize": 3, "labelPadding": 1, "labelFontSize": 9.6, "labelBaseline": "middle", "labelAlign": "left", "labelOverlap": false, "labelFlush": false, "labelBound": false, "title": null}}
}
},
{
"data": {"name": "last"},
"mark": {"type": "rule", "color": "#C0C0C0", "strokeWidth": 1},
"encoding": {
"y": {"field": "close", "type": "quantitative", "title": null}
}
},
{
"data": {"name": "marker"},
"mark": {"type": "rule", "color": "black", "strokeWidth": 1, "strokeDash": [9, 3]},
"encoding": {
"x": {"field": "i", "type": "quantitative", "title": null}
}
},
{
"data": {"name": "marker"},
"mark": {"type": "rect", "color": "black", "clip": false},
"encoding": {
"x": {"datum": 224, "type": "quantitative", "title": null},
"x2": {"datum": 263.5},
"y": {"datum": 0.99938, "type": "quantitative", "title": null},
"y2": {"datum": 0.99203}
}
},
{
"data": {"name": "marker"},
"mark": {"type": "text", "color": "white", "font": "Liberation Sans", "fontSize": 9, "align": "center", "baseline": "middle", "clip": false},
"encoding": {
"x": {"field": "i", "type": "quantitative", "title": null},
"y": {"datum": 0.99570, "type": "quantitative", "title": null},
"text": {"field": "label"}
}
},
{
"data": {"name": "last"},
"mark": {"type": "rect", "color": "black", "clip": false},
"encoding": {
"x": {"datum": 905.5, "type": "quantitative", "title": null},
"x2": {"datum": 925.5},
"y": {"datum": 1.12796, "type": "quantitative", "title": null},
"y2": {"datum": 1.12291}
}
},
{
"data": {"name": "last"},
"mark": {"type": "text", "color": "white", "font": "Liberation Sans", "fontSize": 9.6, "align": "left", "baseline": "middle", "clip": false},
"encoding": {
"x": {"datum": 906.5, "type": "quantitative", "title": null},
"y": {"field": "close", "type": "quantitative", "title": null},
"text": {"field": "close", "type": "quantitative", "format": ".5f"}
}
},
{
"data": {"name": "header"},
"mark": {"type": "text", "color": "black", "font": "Liberation Sans", "fontSize": 9.5, "align": "left", "baseline": "middle", "clip": false},
"encoding": {
"x": {"datum": 1.75, "type": "quantitative", "title": null},
"y": {"datum": 1.45125, "type": "quantitative", "title": null},
"text": {"field": "label"}
}
}
]
}
